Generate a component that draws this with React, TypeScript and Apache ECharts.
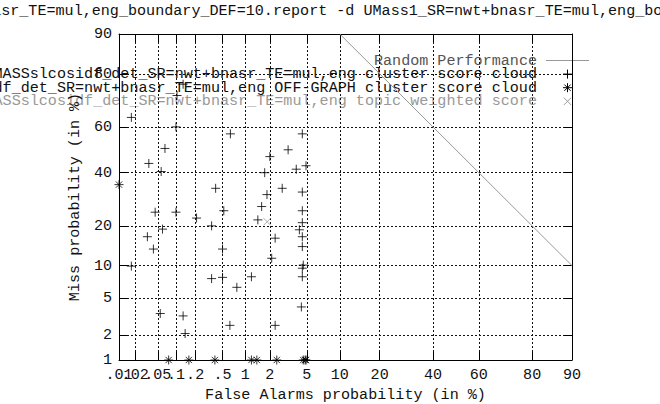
import React, { useEffect, useRef } from 'react';
import * as echarts from 'echarts';

// DET plot: both axes use a normal-deviate (probit) scale, values in percent.
const FA_TICKS = [0.01, 0.02, 0.05, 0.1, 0.2, 0.5, 1, 2, 5, 10, 20, 40, 60, 80, 90];
const FA_TICK_LABELS = ['.01', '.02', '.05', '.1', '.2', '.5', '1', '2', '5', '10', '20', '40', '60', '80', '90'];
const MISS_TICKS = [1, 2, 5, 10, 20, 40, 60, 80, 90];
const MISS_TICK_LABELS = ['1', '2', '5', '10', '20', '40', '60', '80', '90'];

const SERIES_NAMES = [
  'Random Performance',
  'UMASSslcosidf_det_SR=nwt+bnasr_TE=mul,eng cluster score cloud',
  'UMASSslcosidf_det_SR=nwt+bnasr_TE=mul,eng OFF-GRAPH cluster score cloud',
  'UMASSslcosidf_det_SR=nwt+bnasr_TE=mul,eng topic weighted score',
];

const TITLE_TEXT =
  'bnasr_TE=mul,eng_boundary_DEF=10.report -d UMass1_SR=nwt+bnasr_TE=mul,eng_boundary_DEF=10.report';

// Random performance: miss = 100 - false alarm
const RANDOM_FA = [10, 20, 40, 60, 80, 90];
const RANDOM_MISS = [90, 80, 60, 40, 20, 10];

// Cluster score cloud (false alarm %, miss %)
const CLUSTER_FA = [
  0.017, 0.13, 0.104, 0.1, 0.066, 0.035, 0.057, 0.64, 4.5, 3.2,
  2.0, 4.9, 3.9, 1.74, 0.4, 2.76, 4.5, 1.85, 1.6, 0.045,
  0.1, 0.52, 4.5, 0.21, 1.44, 4.5, 0.35, 0.06, 4.2, 2.3,
  4.5, 0.033, 4.5, 0.042, 0.5, 2.1, 4.6, 0.017, 4.5, 4.5,
  0.35, 0.5, 1.2, 0.78, 4.4, 0.055, 0.13, 0.14, 0.63, 2.3,
];
const CLUSTER_MISS = [
  64, 76.6, 72.6, 60, 50.6, 44, 40.5, 57, 57, 50,
  47, 43, 41.5, 40, 33.5, 33.5, 32, 31, 26.5, 24.5,
  24.5, 25, 25, 22.5, 21.9, 21, 20, 19, 18.8, 16.4,
  16.8, 16.8, 14.2, 13.6, 13.6, 11.5, 10.1, 9.9, 9.5, 8,
  7.7, 7.9, 8, 6.4, 4.1, 3.5, 3.3, 2.1, 2.6, 2.6,
];

// Off-graph points, pinned to the plot boundary
const OFF_FA = [0.01, 0.076, 0.16, 0.39, 1.2, 1.4, 2.4, 4.6, 4.8, 4.9];
const OFF_MISS = [35, 1, 1, 1, 1, 1, 1, 1, 1, 1];

// Topic weighted score
const TOPIC_FA = [1.86];
const TOPIC_MISS = [21.3];

const FONT = "'Liberation Mono', 'DejaVu Sans Mono', monospace";
const FONT_SIZE = 15.1;

// Inverse of the standard normal CDF (Acklam's approximation)
function probit(p: number): number {
  const a = [-3.969683028665376e1, 2.209460984245205e2, -2.759285104469687e2, 1.38357751867269e2, -3.066479806614716e1, 2.506628277459239];
  const b = [-5.447609879822406e1, 1.615858368580409e2, -1.556989798598866e2, 6.680131188771972e1, -1.328068155811863e1];
  const c = [-7.784894002430293e-3, -3.223964580411365e-1, -2.400758277161838, -2.549732539343734, 4.374664141464968, 2.938163982698783];
  const d = [7.784695709041462e-3, 3.224671290700398e-1, 2.445134137142996, 3.754408661907416];
  const pl = 0.02425;
  if (p < pl) {
    const q = Math.sqrt(-2 * Math.log(p));
    return (((((c[0] * q + c[1]) * q + c[2]) * q + c[3]) * q + c[4]) * q + c[5]) /
      ((((d[0] * q + d[1]) * q + d[2]) * q + d[3]) * q + 1);
  }
  if (p <= 1 - pl) {
    const q = p - 0.5;
    const r = q * q;
    return ((((((a[0] * r + a[1]) * r + a[2]) * r + a[3]) * r + a[4]) * r + a[5]) * q) /
      (((((b[0] * r + b[1]) * r + b[2]) * r + b[3]) * r + b[4]) * r + 1);
  }
  const q = Math.sqrt(-2 * Math.log(1 - p));
  return -(((((c[0] * q + c[1]) * q + c[2]) * q + c[3]) * q + c[4]) * q + c[5]) /
    ((((d[0] * q + d[1]) * q + d[2]) * q + d[3]) * q + 1);
}

const dev = (pct: number) => probit(pct / 100);
const pairs = (xs: number[], ys: number[]) => xs.map((x, i) => [dev(x), dev(ys[i])]);

const PLUS = 'path://M0,5L10,5M5,0L5,10';
const STAR = 'path://M0,5L10,5M5,0L5,10M1.5,1.5L8.5,8.5M1.5,8.5L8.5,1.5';
const CROSS = 'path://M0,0L10,10M0,10L10,0';

// Short stroke segments that draw a legend sample marker
function markerSegments(kind: 'plus' | 'star' | 'cross', cx: number, cy: number, r: number, color: string) {
  const segs: number[][] = [];
  if (kind === 'plus' || kind === 'star') {
    segs.push([cx - r, cy, cx + r, cy], [cx, cy - r, cx, cy + r]);
  }
  if (kind === 'star') {
    const k = r * 0.7;
    segs.push([cx - k, cy - k, cx + k, cy + k], [cx - k, cy + k, cx + k, cy - k]);
  }
  if (kind === 'cross') {
    const k = r * 0.8;
    segs.push([cx - k, cy - k, cx + k, cy + k], [cx - k, cy + k, cx + k, cy - k]);
  }
  return segs.map((s) => ({
    type: 'line',
    shape: { x1: s[0], y1: s[1], x2: s[2], y2: s[3] },
    style: { stroke: color, lineWidth: 1 },
    silent: true,
  }));
}

function nearestLabel(val: number, ticks: number[], labels: string[]) {
  let best = 0;
  for (let i = 1; i < ticks.length; i++) {
    if (Math.abs(ticks[i] - val) < Math.abs(ticks[best] - val)) best = i;
  }
  return labels[best];
}

export default function App() {
  const ref = useRef<HTMLDivElement>(null);

  useEffect(() => {
    if (!ref.current) return;
    const chart = echarts.init(ref.current, undefined, { renderer: 'svg' });

    const xTicks = FA_TICKS.map(dev);
    const yTicks = MISS_TICKS.map(dev);
    const xMin = xTicks[0];
    const xMax = xTicks[xTicks.length - 1];
    const yMin = yTicks[0];
    const yMax = yTicks[yTicks.length - 1];

    // The .02 label sits on its own axis so that the crowded labels at the
    // low end are all kept (ECharts drops a neighbour of the min label otherwise).
    const xLabelsMain = xTicks.filter((_, i) => i !== 1);
    const xLabelsExtra = [xTicks[1]];

    const textStyle = { color: '#111', fontFamily: FONT, fontSize: FONT_SIZE };
    const gridLine = { show: true, lineStyle: { color: '#111', width: 1, type: [2, 2] as number[] } };
    const border = { show: true, onZero: false, lineStyle: { color: '#000', width: 1 } };
    const xLabelFormatter = (v: number) => nearestLabel(v, xTicks, FA_TICK_LABELS);

    const legendColors = ['#555', '#111', '#111', '#999'];
    const legendKinds: ('line' | 'plus' | 'star' | 'cross')[] = ['line', 'plus', 'star', 'cross'];
    const legendMarkColors = ['#999', '#000', '#000', '#999'];
    const legendRight = 537;
    const sampleX0 = 546;
    const sampleX1 = 589;
    const legendTop = 60.5;
    const legendStep = 13.6;

    const legendGraphics: any[] = [];
    SERIES_NAMES.forEach((name, i) => {
      const y = legendTop + i * legendStep;
      legendGraphics.push({
        type: 'text',
        x: legendRight,
        y,
        silent: true,
        style: {
          text: name,
          font: `${FONT_SIZE}px ${FONT}`,
          fill: legendColors[i],
          align: 'right',
          verticalAlign: 'middle',
          textAlign: 'right',
          textVerticalAlign: 'middle',
        },
      });
      const kind = legendKinds[i];
      if (kind === 'line') {
        legendGraphics.push({
          type: 'line',
          silent: true,
          shape: { x1: sampleX0, y1: y, x2: sampleX1, y2: y },
          style: { stroke: legendMarkColors[i], lineWidth: 1 },
        });
      } else {
        legendGraphics.push(...markerSegments(kind, (sampleX0 + sampleX1) / 2, y, 4.5, legendMarkColors[i]));
      }
    });

    chart.setOption({
      animation: false,
      backgroundColor: '#fff',
      grid: { left: 119, right: 88, top: 34, bottom: 44, containLabel: false, outerBoundsMode: 'none' },
      xAxis: [
        {
          type: 'value',
          position: 'bottom',
          min: xMin,
          max: xMax,
          axisLine: border,
          axisTick: { show: true, inside: true, length: 8, customValues: xTicks, lineStyle: { color: '#000' } },
          axisLabel: {
            ...textStyle,
            customValues: xLabelsMain,
            showMinLabel: true,
            showMaxLabel: true,
            hideOverlap: false,
            margin: 7,
            formatter: xLabelFormatter,
          },
          splitLine: gridLine,
          name: 'False Alarms probability (in %)',
          nameLocation: 'middle',
          nameGap: 27,
          nameTextStyle: textStyle,
        },
        {
          type: 'value',
          position: 'top',
          min: xMin,
          max: xMax,
          axisLine: border,
          axisTick: { show: true, inside: true, length: 8, customValues: xTicks, lineStyle: { color: '#000' } },
          axisLabel: { show: false },
          splitLine: { show: false },
        },
        {
          type: 'value',
          position: 'bottom',
          min: xMin,
          max: xMax,
          axisLine: { show: false, onZero: false },
          axisTick: { show: false, customValues: xLabelsExtra },
          axisLabel: {
            ...textStyle,
            customValues: xLabelsExtra,
            showMinLabel: true,
            showMaxLabel: true,
            hideOverlap: false,
            margin: 7,
            formatter: xLabelFormatter,
          },
          splitLine: { show: false },
        },
      ],
      yAxis: [
        {
          type: 'value',
          position: 'left',
          min: yMin,
          max: yMax,
          axisLine: border,
          axisTick: { show: true, inside: true, length: 8, customValues: yTicks, lineStyle: { color: '#000' } },
          axisLabel: {
            ...textStyle,
            customValues: yTicks,
            showMinLabel: true,
            showMaxLabel: true,
            hideOverlap: false,
            margin: 7,
            formatter: (v: number) => nearestLabel(v, yTicks, MISS_TICK_LABELS),
          },
          splitLine: gridLine,
          name: 'Miss probability (in %)',
          nameLocation: 'middle',
          nameRotate: 90,
          nameGap: 31,
          nameTextStyle: textStyle,
        },
        {
          type: 'value',
          position: 'right',
          min: yMin,
          max: yMax,
          axisLine: border,
          axisTick: { show: true, inside: true, length: 8, customValues: yTicks, lineStyle: { color: '#000' } },
          axisLabel: { show: false },
          splitLine: { show: false },
        },
      ],
      graphic: [
        {
          type: 'text',
          x: -26,
          y: 11,
          silent: true,
          style: {
            text: TITLE_TEXT,
            font: `${FONT_SIZE}px ${FONT}`,
            fill: '#111',
            align: 'left',
            verticalAlign: 'middle',
            textAlign: 'left',
            textVerticalAlign: 'middle',
          },
        },
        ...legendGraphics,
      ],
      series: [
        {
          name: SERIES_NAMES[0],
          type: 'line',
          data: pairs(RANDOM_FA, RANDOM_MISS),
          symbol: 'none',
          lineStyle: { color: '#999', width: 1 },
          silent: true,
          z: 3,
        },
        {
          name: SERIES_NAMES[1],
          type: 'scatter',
          data: pairs(CLUSTER_FA, CLUSTER_MISS),
          symbol: PLUS,
          symbolSize: 9,
          itemStyle: { color: 'none', borderColor: '#000', borderWidth: 1 },
          silent: true,
          z: 4,
        },
        {
          name: SERIES_NAMES[2],
          type: 'scatter',
          data: pairs(OFF_FA, OFF_MISS),
          symbol: STAR,
          symbolSize: 9,
          itemStyle: { color: 'none', borderColor: '#000', borderWidth: 1 },
          silent: true,
          clip: false,
          z: 4,
        },
        {
          name: SERIES_NAMES[3],
          type: 'scatter',
          data: pairs(TOPIC_FA, TOPIC_MISS),
          symbol: CROSS,
          symbolSize: 7,
          itemStyle: { color: 'none', borderColor: '#999', borderWidth: 1 },
          silent: true,
          z: 4,
        },
      ],
    });

    return () => chart.dispose();
  }, []);

  return (
    <div
      ref={ref}
      style={{ position: 'fixed', left: 0, top: 0, width: 660, height: 404, background: '#fff' }}
    />
  );
}
